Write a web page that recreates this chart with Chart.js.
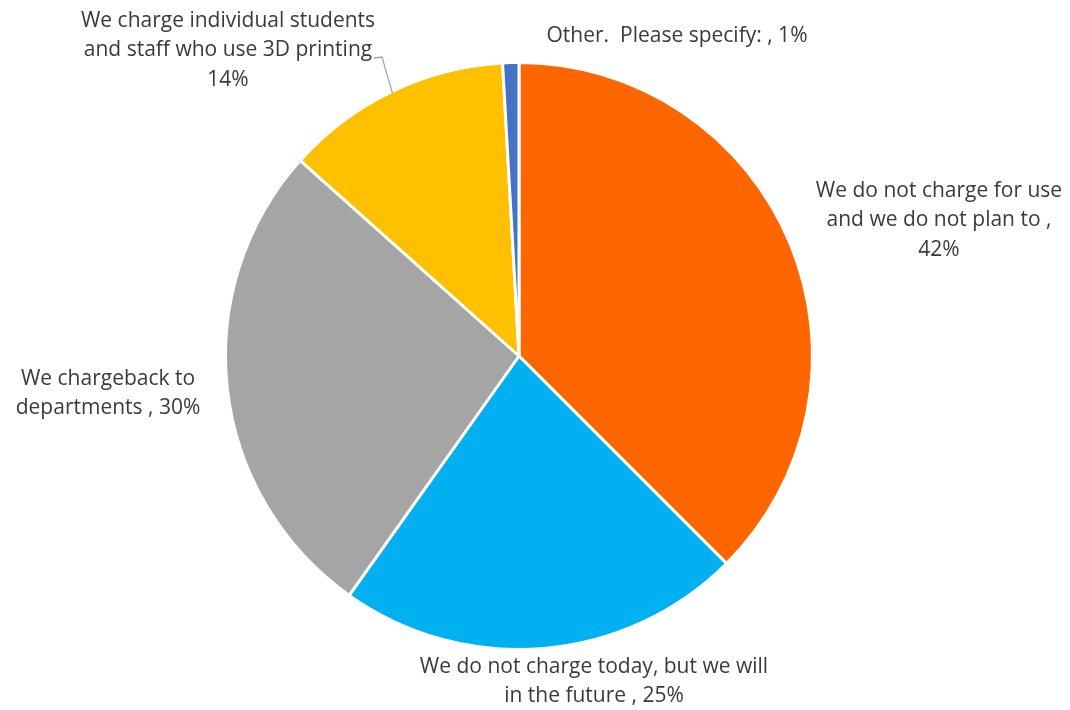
<!DOCTYPE html>
<html>
<head>
<meta charset="utf-8">
<script src="https://cdn.jsdelivr.net/npm/chart.js@4"></script>
<style>
  html, body { margin: 0; padding: 0; background: #fff; }
  #wrap { width: 1070px; height: 710px; }
</style>
</head>
<body>
<div id="wrap"><canvas id="chargeChart" width="1070" height="710"></canvas></div>
<script>
// survey answers, clockwise from 12 o'clock
var categories = [
    "We do not charge for use and we do not plan to",
    "We do not charge today, but we will in the future",
    "We chargeback to departments",
    "We charge individual students and staff who use 3D printing",
    "Other.  Please specify:"
];
var percents = [42, 25, 30, 14, 1];
var colors = ['#FF6600', '#00B0F0', '#A5A5A5', '#FFC000', '#4472C4'];

// label text broken into lines, with where each block sits
var labelLines = [
    ["We do not charge for use", "and we do not plan to ,", "42%"],
    ["We do not charge today, but we will", "in the future , 25%"],
    ["We chargeback to", "departments , 30%"],
    ["We charge individual students", "and staff who use 3D printing", "14%"],
    ["Other.  Please specify: , 1%"]
];
var labelPos = [
    { x: 939, y: 191 },
    { x: 594, y: 667 },
    { x: 108, y: 379 },
    { x: 228, y: 21 },
    { x: 677, y: 36 }
];
var lineGap = 29.5;

var sliceLabels = {
    id: 'sliceLabels',
    afterDraw: function (chart) {
        var ctx = chart.ctx;
        var arcs = chart.getDatasetMeta(0).data;
        ctx.save();
        ctx.font = '21px "Open Sans", sans-serif';
        ctx.fillStyle = '#3a3a3a';
        ctx.textAlign = 'center';
        ctx.textBaseline = 'middle';
        labelLines.forEach(function (lines, i) {
            lines.forEach(function (t, j) {
                ctx.fillText(t, labelPos[i].x, labelPos[i].y + j * lineGap);
            });
        });

        // leader line for the small yellow slice label
        var a = arcs[3];
        var mid = (a.startAngle + a.endAngle) / 2;
        var ex = a.x + Math.cos(mid) * (a.outerRadius - 2);
        var ey = a.y + Math.sin(mid) * (a.outerRadius - 2);
        ctx.strokeStyle = '#A6A6A6';
        ctx.lineWidth = 1.3;
        ctx.beginPath();
        ctx.moveTo(374, 58);
        ctx.lineTo(382, 57);
        ctx.lineTo(ex, ey);
        ctx.stroke();
        ctx.restore();
    }
};

new Chart(document.getElementById('chargeChart').getContext('2d'), {
    type: 'pie',
    data: {
        labels: categories,
        datasets: [{
            data: percents,
            backgroundColor: colors,
            borderColor: '#ffffff',
            borderWidth: 3
        }]
    },
    options: {
        responsive: false,
        animation: false,
        layout: { padding: { left: 224, right: 256, top: 61, bottom: 59 } },
        plugins: {
            legend: { display: false },
            tooltip: { enabled: false }
        }
    },
    plugins: [sliceLabels]
});
</script>
</body>
</html>
